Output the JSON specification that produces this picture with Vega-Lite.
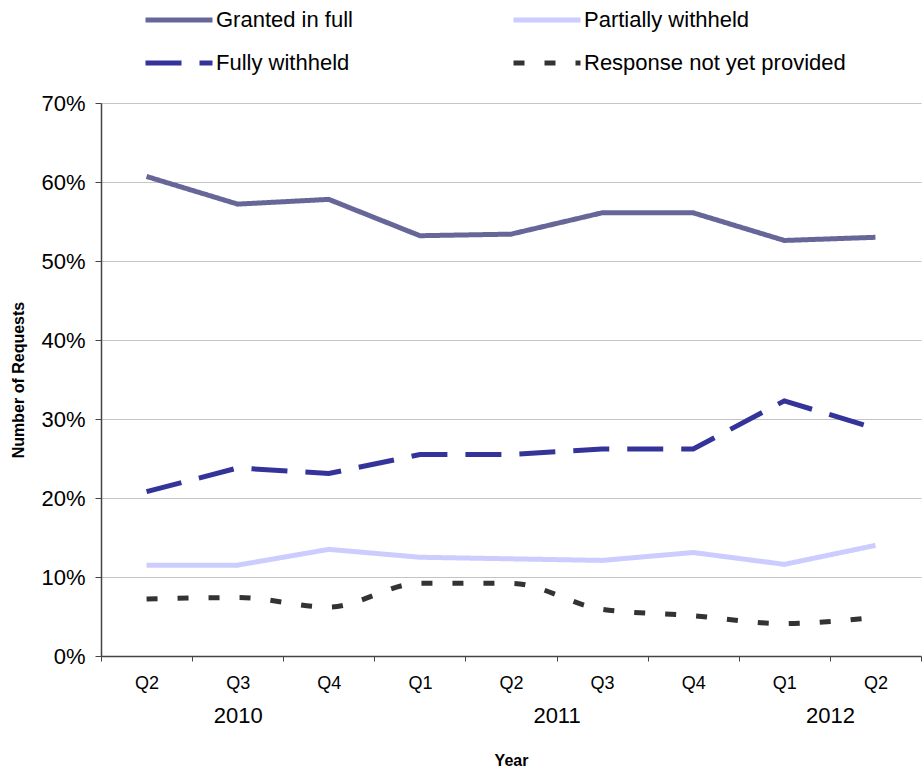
{
  "$schema": "https://vega.github.io/schema/vega-lite/v6.json",
  "width": 820,
  "height": 553,
  "autosize": {"type": "none"},
  "padding": {"left": 101, "top": 103, "right": 2, "bottom": 113},
  "background": "white",
  "config": {
    "font": "Liberation Sans",
    "view": {"stroke": null},
    "axis": {"labelFont": "Liberation Sans", "titleFont": "Liberation Sans", "labelColor": "#000000", "titleColor": "#000000"}
  },
  "data": {
    "values": [
      {"period": "2010 Q2", "year": "2010", "idx": 0, "series": "Granted in full", "value": 60.7},
      {"period": "2010 Q3", "year": "2010", "idx": 1, "series": "Granted in full", "value": 57.2},
      {"period": "2010 Q4", "year": "2010", "idx": 2, "series": "Granted in full", "value": 57.8},
      {"period": "2011 Q1", "year": "2011", "idx": 3, "series": "Granted in full", "value": 53.2},
      {"period": "2011 Q2", "year": "2011", "idx": 4, "series": "Granted in full", "value": 53.4},
      {"period": "2011 Q3", "year": "2011", "idx": 5, "series": "Granted in full", "value": 56.1},
      {"period": "2011 Q4", "year": "2011", "idx": 6, "series": "Granted in full", "value": 56.1},
      {"period": "2012 Q1", "year": "2012", "idx": 7, "series": "Granted in full", "value": 52.6},
      {"period": "2012 Q2", "year": "2012", "idx": 8, "series": "Granted in full", "value": 53.0},
      {"period": "2010 Q2", "year": "2010", "idx": 0, "series": "Partially withheld", "value": 11.5},
      {"period": "2010 Q3", "year": "2010", "idx": 1, "series": "Partially withheld", "value": 11.5},
      {"period": "2010 Q4", "year": "2010", "idx": 2, "series": "Partially withheld", "value": 13.5},
      {"period": "2011 Q1", "year": "2011", "idx": 3, "series": "Partially withheld", "value": 12.5},
      {"period": "2011 Q2", "year": "2011", "idx": 4, "series": "Partially withheld", "value": 12.3},
      {"period": "2011 Q3", "year": "2011", "idx": 5, "series": "Partially withheld", "value": 12.1},
      {"period": "2011 Q4", "year": "2011", "idx": 6, "series": "Partially withheld", "value": 13.1},
      {"period": "2012 Q1", "year": "2012", "idx": 7, "series": "Partially withheld", "value": 11.6},
      {"period": "2012 Q2", "year": "2012", "idx": 8, "series": "Partially withheld", "value": 14.0},
      {"period": "2010 Q2", "year": "2010", "idx": 0, "series": "Fully withheld", "value": 20.8},
      {"period": "2010 Q3", "year": "2010", "idx": 1, "series": "Fully withheld", "value": 23.8},
      {"period": "2010 Q4", "year": "2010", "idx": 2, "series": "Fully withheld", "value": 23.1},
      {"period": "2011 Q1", "year": "2011", "idx": 3, "series": "Fully withheld", "value": 25.5},
      {"period": "2011 Q2", "year": "2011", "idx": 4, "series": "Fully withheld", "value": 25.5},
      {"period": "2011 Q3", "year": "2011", "idx": 5, "series": "Fully withheld", "value": 26.2},
      {"period": "2011 Q4", "year": "2011", "idx": 6, "series": "Fully withheld", "value": 26.2},
      {"period": "2012 Q1", "year": "2012", "idx": 7, "series": "Fully withheld", "value": 32.3},
      {"period": "2012 Q2", "year": "2012", "idx": 8, "series": "Fully withheld", "value": 28.8},
      {"period": "2010 Q2", "year": "2010", "idx": 0, "series": "Response not yet provided", "value": 7.2},
      {"period": "2010 Q3", "year": "2010", "idx": 1, "series": "Response not yet provided", "value": 7.4},
      {"period": "2010 Q4", "year": "2010", "idx": 2, "series": "Response not yet provided", "value": 6.2},
      {"period": "2011 Q1", "year": "2011", "idx": 3, "series": "Response not yet provided", "value": 9.2},
      {"period": "2011 Q2", "year": "2011", "idx": 4, "series": "Response not yet provided", "value": 9.2},
      {"period": "2011 Q3", "year": "2011", "idx": 5, "series": "Response not yet provided", "value": 5.9},
      {"period": "2011 Q4", "year": "2011", "idx": 6, "series": "Response not yet provided", "value": 5.1},
      {"period": "2012 Q1", "year": "2012", "idx": 7, "series": "Response not yet provided", "value": 4.1},
      {"period": "2012 Q2", "year": "2012", "idx": 8, "series": "Response not yet provided", "value": 4.9}
    ]
  },
  "layer": [
    {
      "encoding": {
        "x": {
          "field": "period",
          "type": "ordinal",
          "scale": {"type": "band", "paddingInner": 0, "paddingOuter": 0},
          "axis": {
            "title": null,
            "labelExpr": "split(datum.label, ' ')[1]",
            "labelAngle": 0,
            "labelFontSize": 18,
            "labelPadding": 13,
            "tickBand": "extent",
            "tickSize": 5,
            "tickColor": "#444444",
            "domainColor": "#444444",
            "domainWidth": 1.5,
            "grid": false
          }
        },
        "y": {
          "field": "value",
          "type": "quantitative",
          "scale": {"domain": [0, 70], "nice": false},
          "axis": {
            "title": "Number of Requests",
            "titleFontSize": 16,
            "titleFontWeight": "bold",
            "titlePadding": 14,
            "values": [0, 10, 20, 30, 40, 50, 60, 70],
            "labelExpr": "datum.value + '%'",
            "labelFontSize": 22,
            "labelPadding": 10,
            "tickSize": 6,
            "tickColor": "#444444",
            "domainColor": "#444444",
            "domainWidth": 1.5,
            "gridColor": "#c4c4c4",
            "gridWidth": 1.2
          }
        },
        "color": {
          "field": "series",
          "type": "nominal",
          "scale": {
            "domain": ["Granted in full", "Partially withheld", "Fully withheld", "Response not yet provided"],
            "range": ["#666699", "#ccccff", "#333399", "#333333"]
          },
          "legend": {
            "title": null,
            "orient": "none",
            "legendX": 42,
            "legendY": -93,
            "direction": "horizontal",
            "columns": 2,
            "symbolType": "M-1,0L1,0",
            "symbolSize": 4489,
            "symbolStrokeWidth": 5,
            "labelFontSize": 22,
            "labelFont": "Liberation Sans",
            "labelColor": "#000000",
            "labelLimit": 400,
            "labelOffset": 1,
            "columnPadding": 158,
            "clipHeight": 20,
            "rowPadding": 21
          }
        },
        "strokeDash": {
          "field": "series",
          "type": "nominal",
          "scale": {
            "domain": ["Granted in full", "Partially withheld", "Fully withheld", "Response not yet provided"],
            "range": [[1, 0], [1, 0], [36, 18], [11, 20]]
          }
        }
      },
      "layer": [
        {
          "transform": [{"filter": "datum.series !== 'Response not yet provided'"}],
          "mark": {"type": "line", "strokeWidth": 5, "interpolate": "linear"}
        },
        {
          "transform": [{"filter": "datum.series === 'Response not yet provided'"}],
          "mark": {"type": "line", "strokeWidth": 5, "interpolate": "monotone"}
        }
      ]
    },
    {
      "mark": {"type": "point", "opacity": 0},
      "encoding": {
        "x": {
          "aggregate": "mean",
          "field": "idx",
          "type": "quantitative",
          "scale": {"domain": [-0.5, 8.5], "nice": false, "zero": false},
          "axis": {
            "orient": "bottom",
            "values": [1, 4.5, 7.5],
            "labelExpr": "datum.value < 3 ? '2010' : datum.value < 6 ? '2011' : '2012'",
            "labelFontSize": 22,
            "labelPadding": 49,
            "domain": false,
            "ticks": false,
            "grid": false,
            "title": "Year",
            "titleFontSize": 16,
            "titleFontWeight": "bold",
            "titlePadding": 26
          }
        },
        "detail": {"field": "year"}
      }
    }
  ],
  "resolve": {"scale": {"x": "independent"}}
}
